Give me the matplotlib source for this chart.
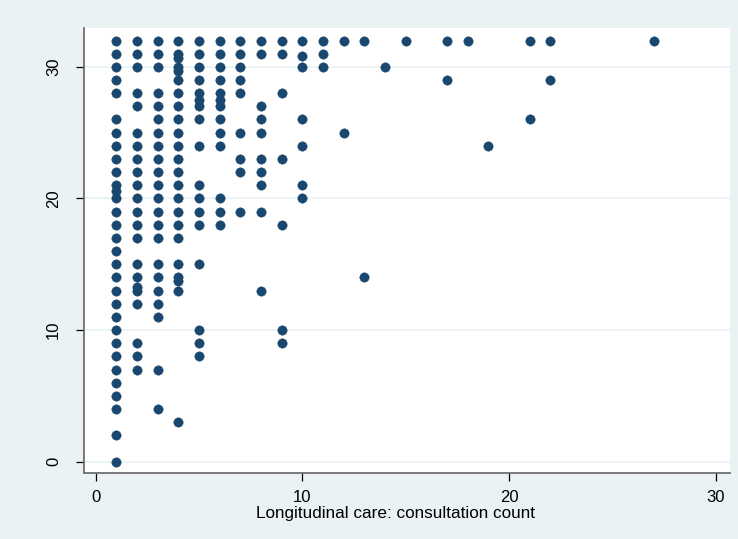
import matplotlib
matplotlib.use("Agg")
import matplotlib.pyplot as plt

# consultation count (x) -> observed scores (y), one list per count
consult_counts = [1, 2, 3, 4, 5, 6, 7, 8, 9, 10, 11, 12, 13, 14, 15, 17, 18, 19, 21, 22, 27]

scores_1 = [32, 31, 30, 29, 28, 26, 25, 24, 23, 22, 21, 20.6, 20, 19, 18, 17, 16, 15,
            14, 13, 12, 11, 10, 9, 8, 7, 6, 5, 4, 2, 0]
scores_2 = [32, 31, 30, 28, 27, 25, 24, 23, 22, 21, 20, 19, 18, 17, 15, 14, 13.3, 13,
            12, 9, 8, 7]
scores_3 = [32, 31, 30, 28, 27, 26, 25, 24, 23, 22, 21, 20, 19, 18, 17, 15, 14, 13,
            12, 11, 7, 4]
scores_4 = [32, 31, 30.7, 30, 29.7, 29, 28, 27, 26, 25, 24, 23, 22, 21, 20, 19, 18, 17,
            15, 14, 13.7, 13, 3]
scores_5 = [32, 31, 30, 29, 28, 27.5, 27, 26, 24, 21, 20, 19, 18, 15, 10, 9, 8]
scores_6 = [32, 31, 30, 29, 28, 27.5, 27, 26, 25, 24, 20, 19, 18]
scores_7 = [32, 31, 30, 29, 28, 25, 23, 22, 19]
scores_8 = [32, 31, 27, 26, 25, 23, 22, 21, 19, 13]
scores_9 = [32, 31, 28, 23, 18, 10, 9]
scores_10 = [32, 30.85, 30, 26, 24, 21, 20]
scores_11 = [32, 31, 30]
scores_12 = [32, 25]
scores_13 = [32, 14]
scores_14 = [30]
scores_15 = [32]
scores_17 = [32, 29]
scores_18 = [32]
scores_19 = [24]
scores_21 = [32, 26]
scores_22 = [32, 29]
scores_27 = [32]

score_lists = [scores_1, scores_2, scores_3, scores_4, scores_5, scores_6, scores_7,
               scores_8, scores_9, scores_10, scores_11, scores_12, scores_13, scores_14,
               scores_15, scores_17, scores_18, scores_19, scores_21, scores_22, scores_27]

x_ticks = [0, 10, 20, 30]
y_ticks = [0, 10, 20, 30]
x_title = "Longitudinal care: consultation count"

xs, ys = [], []
for c, col in zip(consult_counts, score_lists):
    xs += [c] * len(col)
    ys += col

plt.rcParams["font.family"] = ["Liberation Sans", "DejaVu Sans"]

bg = "#EAF2F3"
navy = "#1A476F"

fig = plt.figure(figsize=(7.38, 5.39), dpi=100, facecolor=bg)
ax = fig.add_axes([0.1138, 0.1230, 0.8748, 0.8245])
ax.set_facecolor("white")

ax.scatter(xs, ys, s=46, color=navy, edgecolors=navy, linewidths=0.3, zorder=3)

ax.set_xlim(-0.57, 30.68)
ax.set_ylim(-0.84, 32.93)
ax.set_xticks(x_ticks)
ax.set_yticks(y_ticks)
ax.set_yticklabels([str(v) for v in y_ticks], rotation=90, va="center")
ax.tick_params(axis="both", length=5.5, width=0.9, color="black", labelsize=12)
ax.tick_params(axis="x", pad=7)
ax.tick_params(axis="y", pad=11)

for v in y_ticks:
    ax.axhline(v, color=bg, lw=1.2, zorder=1)

for side in ("top", "right"):
    ax.spines[side].set_visible(False)
for side in ("left", "bottom"):
    ax.spines[side].set_color("#707070")
    ax.spines[side].set_linewidth(1.3)

ax.set_xlabel(x_title, fontsize=12.3, labelpad=1)
ax.xaxis.set_label_coords(0.482, -0.075)

fig.savefig("out.png", dpi=100, facecolor=bg)
